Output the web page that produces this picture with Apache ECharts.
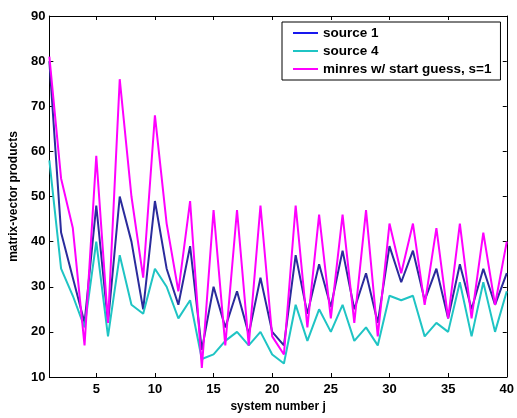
<!DOCTYPE html>
<html>
<head>
<meta charset="utf-8">
<script src="https://cdn.jsdelivr.net/npm/echarts@6/dist/echarts.min.js"></script>
<style>
html,body{margin:0;padding:0;background:#fff;}
#chart{width:517px;height:418px;}
</style>
</head>
<body>
<div id="chart"></div>
<script>
const systems = Array.from({length: 40}, (_, i) => i + 1);
const source1 = [80,42,32,22,48,22,50,40,25,49,34,26,39,16,30,21,29,19.5,32,20,17,37,24,35,25.5,38,25,33,22,39,31,38,27,34,23,35,25,34,26,33];
const source4 = [58,34,28,21,40,19,37,26,24,34,30,23,27,14,15,18,20,17,20,15,13,26,18,25,20,26,18,21,17,28,27,28,19,22,20,31,19,31,20,29];
const minres  = [81,54,43,17,59,22,76,50,32,68,44,29,49,12,47,17,47,17,48,19,15,48,21,46,23,46,22,47,19,44,33,44,26,43,23,44,23,42,26,40];
const xTicks = [5,10,15,20,25,30,35,40];
const yTicks = [10,20,30,40,50,60,70,80,90];
const names = ['source 1','source 4','minres w/ start guess, s=1'];
const colors = ['#2b2b9c','#1fc4c4','#ff00ff'];

const font = 'Liberation Sans, Arial, Helvetica, sans-serif';
const chart = echarts.init(document.getElementById('chart'), null, {renderer:'canvas'});
const pair = s => systems.map((x,i)=>[x,s[i]]);
const axisLine = {show:true, lineStyle:{color:'#000', width:1}};
chart.setOption({
  backgroundColor:'#fff',
  animation:false,
  grid:{left:46, right:10, top:16, bottom:38, containLabel:false},
  legend:{
    orient:'vertical', left:282, top:22,
    backgroundColor:'#fff', borderColor:'#000', borderWidth:1,
    padding:[4,9,4,11],
    itemWidth:25, itemHeight:2, itemGap:4,
    icon:'rect',
    textStyle:{fontFamily:font, fontWeight:'bold', fontSize:13.5, color:'#000', lineHeight:14},
    data:[
      {name:names[0], itemStyle:{color:'#1818ee'}},
      {name:names[1], itemStyle:{color:colors[1]}},
      {name:names[2], itemStyle:{color:colors[2]}}
    ]
  },
  xAxis:[{
    type:'value', min:1, max:40,
    name:'system number j', nameLocation:'middle', nameGap:24,
    nameTextStyle:{fontFamily:font, fontWeight:'bold', fontSize:12, color:'#000'},
    axisLine:axisLine,
    axisTick:{show:true, inside:true, length:4, customValues:xTicks, lineStyle:{color:'#000'}},
    axisLabel:{customValues:xTicks, margin:6, fontFamily:font, fontWeight:'bold', fontSize:13, color:'#000'},
    splitLine:{show:false}
  },{
    type:'value', min:1, max:40, position:'top',
    axisLine:axisLine,
    axisTick:{show:true, inside:true, length:4, customValues:xTicks, lineStyle:{color:'#000'}},
    axisLabel:{show:false}, splitLine:{show:false}
  }],
  yAxis:[{
    type:'value', min:10, max:90, interval:10,
    name:'matrix-vector products', nameLocation:'middle', nameGap:21,
    nameTextStyle:{fontFamily:font, fontWeight:'bold', fontSize:12, color:'#000'},
    axisLine:axisLine,
    axisTick:{show:true, inside:true, length:4, lineStyle:{color:'#000'}},
    axisLabel:{margin:4, fontFamily:font, fontWeight:'bold', fontSize:13, color:'#000'},
    splitLine:{show:false}
  },{
    type:'value', min:10, max:90, interval:10, position:'right',
    axisLine:axisLine,
    axisTick:{show:true, inside:true, length:4, lineStyle:{color:'#000'}},
    axisLabel:{show:false}, splitLine:{show:false}
  }],
  series:[
    {name:names[0], type:'line', data:pair(source1), symbol:'none', lineStyle:{width:2, color:colors[0]}, itemStyle:{color:colors[0]}},
    {name:names[1], type:'line', data:pair(source4), symbol:'none', lineStyle:{width:2, color:colors[1]}, itemStyle:{color:colors[1]}},
    {name:names[2], type:'line', data:pair(minres), symbol:'none', lineStyle:{width:2, color:colors[2]}, itemStyle:{color:colors[2]}}
  ]
});
</script>
</body>
</html>
